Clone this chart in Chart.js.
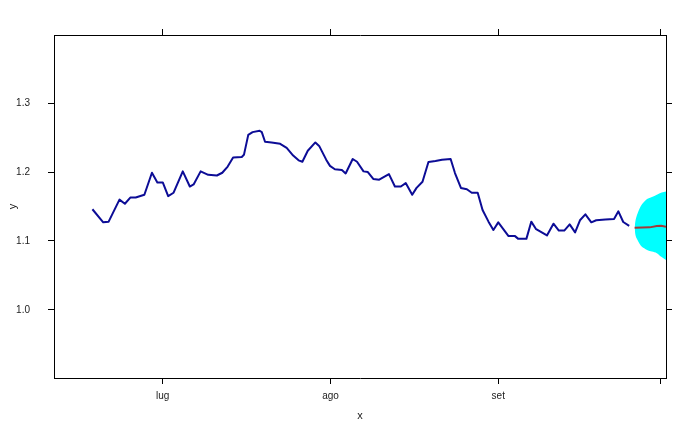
<!DOCTYPE html>
<html>
<head>
<meta charset="utf-8">
<script src="https://cdn.jsdelivr.net/npm/chart.js@4.4.1/dist/chart.umd.min.js"></script>
<style>
  html, body { margin: 0; padding: 0; background: #fff; }
  #wrap { width: 696px; height: 432px; }
</style>
</head>
<body>
<div id="wrap"><canvas id="chart" width="696" height="432"></canvas></div>
<script>
// ─── Data (x = days since 1 July) ────────────────────────────────────
const obsDays = [-13, -11, -10, -8, -7, -6, -5, -3.4, -2, -1, 0, 1, 2, 3.7, 5, 5.7, 7, 8.4, 10, 11, 12, 13,
    14.6, 15, 15.8, 16.6, 17.9, 18.3, 18.9, 20.1, 21.7, 22.9, 24.1, 25.1, 25.8, 26.8, 28.2, 28.9, 30.2, 30.9,
    31.8, 33.1, 33.8, 35.1, 35.9, 37.1, 37.9, 38.9, 40, 41.8, 42.9, 44, 44.9, 46.1, 46.9, 48, 49.1, 50.4,
    51.6, 53.2, 54, 55.1, 56.2, 57.1, 58.2, 59.1, 60.2, 61.1, 62, 63.9, 65.1, 65.7, 67.2, 68.1, 69, 71,
    72.2, 73.2, 74.2, 75.2, 76.2, 77.1, 78.1, 79.2, 80.1, 81.8, 83.4, 84.2, 85.1, 86.2];
const obsRate = [1.146, 1.127, 1.128, 1.160, 1.154, 1.163, 1.163, 1.167, 1.199, 1.185, 1.185, 1.165, 1.170,
    1.201, 1.179, 1.182, 1.201, 1.196, 1.195, 1.199, 1.208, 1.221,
    1.222, 1.225, 1.254, 1.258, 1.260, 1.258, 1.244, 1.243, 1.241, 1.235, 1.224, 1.217, 1.215, 1.231,
    1.243, 1.238, 1.218, 1.209, 1.204, 1.203, 1.198, 1.219, 1.215, 1.201, 1.200, 1.190, 1.189, 1.197,
    1.179, 1.179, 1.184, 1.167, 1.177, 1.186, 1.2145, 1.216, 1.218, 1.219, 1.1986, 1.177, 1.175, 1.170,
    1.170, 1.145, 1.128, 1.116, 1.127, 1.107, 1.107, 1.103, 1.103, 1.128, 1.117, 1.108, 1.125, 1.115,
    1.115, 1.124, 1.1125, 1.130, 1.1386, 1.127, 1.130, 1.131, 1.132, 1.143, 1.1275, 1.122];

const fcDays = [87.2, 90, 91.3, 92.1, 93, 94];
const fcRate = [1.119, 1.1197, 1.1217, 1.1222, 1.1207, 1.121];

const bandDays  = [87.2, 87.4, 87.9, 88.5, 89.5, 90.4, 91.3, 92.2, 93, 94];
const bandUpper = [1.119, 1.131, 1.143, 1.1526, 1.1609, 1.1638, 1.1671, 1.1704, 1.1719, 1.173];
const bandLower = [1.119, 1.107, 1.099, 1.0919, 1.0870, 1.0846, 1.0823, 1.0765, 1.0725, 1.070];

const xTickDays = [0, 31, 62, 92];
const xTickLabels = ['lug', 'ago', 'set', ''];
const yTicks = [1.0, 1.1, 1.2, 1.3];

const xRange = [-20.1, 93];
const yRange = [0.901, 1.399];

// ─── Helpers ─────────────────────────────────────────────────────────
function toPoints(xs, ys) {
    return xs.map((x, i) => ({ x: x, y: ys[i] }));
}

const textColor = '#222';
const tickFont = { family: 'Liberation Sans, Arial, sans-serif', size: 10 };
const titleFont = { family: 'Liberation Sans, Arial, sans-serif', size: 11 };

function axisGrid() {
    return { display: true, drawOnChartArea: false, drawTicks: true, tickLength: 6, color: '#000', tickColor: '#000', lineWidth: 1 };
}

function xAxis(position, showLabels) {
    return {
        type: 'linear',
        position: position,
        min: xRange[0],
        max: xRange[1],
        afterBuildTicks: s => { s.ticks = xTickDays.map(v => ({ value: v })); },
        afterFit: s => { s.height = position === 'bottom' ? 54 : 35; },
        grid: axisGrid(),
        border: { display: true, color: '#000', width: 1 },
        ticks: {
            autoSkip: false,
            maxRotation: 0,
            padding: 6,
            color: textColor,
            font: tickFont,
            callback: (v) => showLabels ? (xTickLabels[xTickDays.indexOf(v)] ?? '') : ''
        },
        title: showLabels
            ? { display: true, text: 'x', color: textColor, font: titleFont, padding: { top: 0, bottom: 9 } }
            : { display: false }
    };
}

function yAxis(position, showLabels) {
    return {
        type: 'linear',
        position: position,
        min: yRange[0],
        max: yRange[1],
        afterBuildTicks: s => { s.ticks = yTicks.map(v => ({ value: v })); },
        afterFit: s => { s.width = position === 'left' ? 54 : 30; },
        grid: axisGrid(),
        border: { display: true, color: '#000', width: 1 },
        ticks: {
            autoSkip: false,
            padding: 18,
            color: textColor,
            font: tickFont,
            callback: (v) => showLabels ? v.toFixed(1) : ''
        },
        title: showLabels
            ? { display: true, text: 'y', color: textColor, font: titleFont, padding: { top: 6, bottom: 0 } }
            : { display: false }
    };
}

// ─── Chart ───────────────────────────────────────────────────────────
// Chart.js paints the first dataset on top, so lines come before the band
new Chart(document.getElementById('chart'), {
    type: 'line',
    data: {
        datasets: [
            {
                data: toPoints(obsDays, obsRate),
                borderColor: '#0c0c96',
                borderWidth: 2,
                borderJoinStyle: 'round',
                pointRadius: 0,
                fill: false,
                tension: 0,
                clip: 0
            },
            {
                data: toPoints(fcDays, fcRate),
                borderColor: '#a33a3a',
                borderWidth: 2,
                pointRadius: 0,
                fill: false,
                tension: 0,
                clip: 0
            },
            {
                data: toPoints(bandDays, bandUpper),
                borderWidth: 0,
                pointRadius: 0,
                backgroundColor: '#00ffff',
                fill: '+1',
                tension: 0.3,
                clip: 0
            },
            {
                data: toPoints(bandDays, bandLower),
                borderWidth: 0,
                pointRadius: 0,
                fill: false,
                tension: 0.3,
                clip: 0
            }
        ]
    },
    options: {
        responsive: false,
        animation: false,
        layout: { padding: 0 },
        plugins: {
            legend: { display: false },
            tooltip: { enabled: false }
        },
        scales: {
            x: xAxis('bottom', true),
            x2: xAxis('top', false),
            y: yAxis('left', true),
            y2: yAxis('right', false)
        }
    }
});
</script>
</body>
</html>
